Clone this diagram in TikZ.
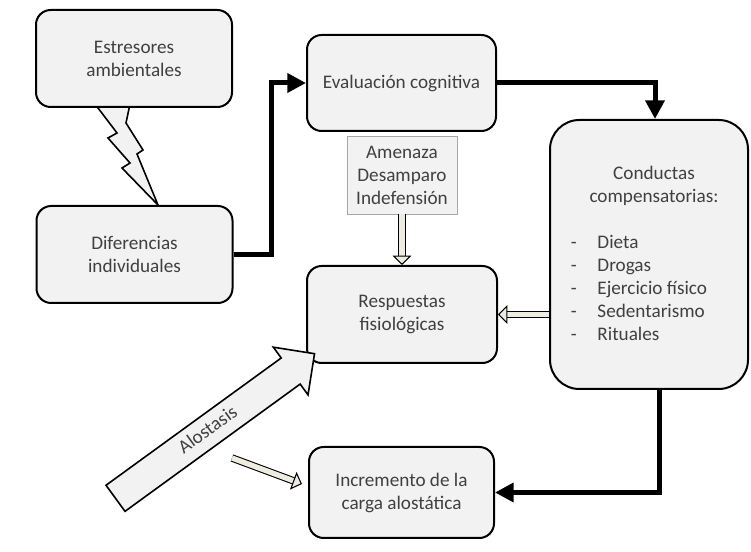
\documentclass[tikz,border=0pt]{standalone}
\usepackage{fontspec}
\setmainfont{Carlito}
\usetikzlibrary{arrows.meta,shapes.arrows}
\definecolor{boxgray}{RGB}{242,242,242}
\definecolor{txtgray}{RGB}{64,64,64}
\definecolor{dblfill}{RGB}{238,236,225}
\tikzset{
  caja/.style={draw, line width=1.5pt, rounded corners=11pt, fill=boxgray, align=center, text=txtgray, inner sep=2pt},
  cuadro/.style={draw=gray!70, line width=0.6pt, fill=boxgray, align=center, text=txtgray, inner sep=2pt},
  flecha/.style={line width=3.75pt, -{Triangle[length=14pt,width=14pt]}},
  hueca/.style={line width=0.8pt, double=dblfill, double distance=4pt, -{Triangle[open,length=7pt,width=14pt,line width=0.8pt,fill=dblfill]}},
  rayo/.style={draw, line width=1.2pt, fill=boxgray, line join=miter}
}
\begin{document}
\begin{tikzpicture}[x=0.75pt,y=0.75pt,yscale=-1,xscale=1, every node/.style={font=\fontsize{14.4}{17.25}\selectfont}]
		\useasboundingbox (0,0) rectangle (751,552);
		
		%Lightning
		\draw [rayo] (95,104) -- (117,133) -- (108,138) -- (130,163) -- (122,168) -- (158,205) -- (137,154) -- (143,150) -- (126,123) -- (130,104) -- cycle ;
		
		% Boxes
		\draw (134,58.5) node (estres) [caja, minimum width=147pt, minimum height=72.75pt] {Estresores\\ambientales};
		\draw (134.5,254.5) node (difer) [caja, minimum width=147pt, minimum height=72.75pt] {Diferencias\\individuales};
		\draw (401.5,83) node (eval) [caja, minimum width=141.75pt, minimum height=72pt] {Evaluación cognitiva};
		\draw (402,175) node (amen) [cuadro, minimum width=82.5pt, minimum height=58.5pt] {Amenaza\\Desamparo\\Indefensión};
		\draw (402,314.5) node (resp) [caja, minimum width=142.5pt, minimum height=72.75pt] {Respuestas\\fisiológicas};
		\draw (401.5,492.5) node (incr) [caja, minimum width=138.75pt, minimum height=68.25pt] {Incremento de la\\carga alostática};
		\draw (649,254.5) node (cond) [caja, rounded corners=22pt, minimum width=148.5pt, minimum height=201.75pt] {};
		% Text Node
		\draw (639,255) node (condtxt) [text=txtgray] {\renewcommand{\arraystretch}{1}\begin{tabular}{@{}l@{\hspace{15.5pt}}l@{}}
				\multicolumn{2}{c}{\makebox[0pt]{\hspace{22.5pt}Conductas}}\\
				\multicolumn{2}{c}{\makebox[0pt]{\hspace{22.5pt}compensatorias:}}\\[17.25pt]
				- & Dieta\\
				- & Drogas\\
				- & Ejercicio físico\\
				- & Sedentarismo\\
				- & Rituales
		\end{tabular}};
		
		% Thick arrows
		\draw [flecha] (difer.east) -- ++(38,0) |- (eval.west);
		\draw [flecha] (eval.east) -| ([xshift=4.5pt]cond.north);
		\draw [flecha] ([xshift=7.5pt]cond.south) |- (incr.east);
		
		% Hollow arrows
		\draw [hueca] (amen.south) -- (resp.north);
		\draw [hueca] (cond.west |- resp.east) -- (resp.east);
		\coordinate (alo1) at (232,458);
		\coordinate (alo2) at (302,484);
		\draw [hueca] (alo1) -- (alo2);
		
		%Big arrow
		\draw (208.5,430.75) node (alost) [single arrow, draw, line width=1.2pt, fill=boxgray, text=txtgray, rotate=36, minimum height=184.5pt, minimum width=44pt, single arrow head extend=10pt, single arrow tip angle=90, inner sep=0pt, text height=15pt, text depth=8pt] {Alostasis};
	\end{tikzpicture}
\end{document}
